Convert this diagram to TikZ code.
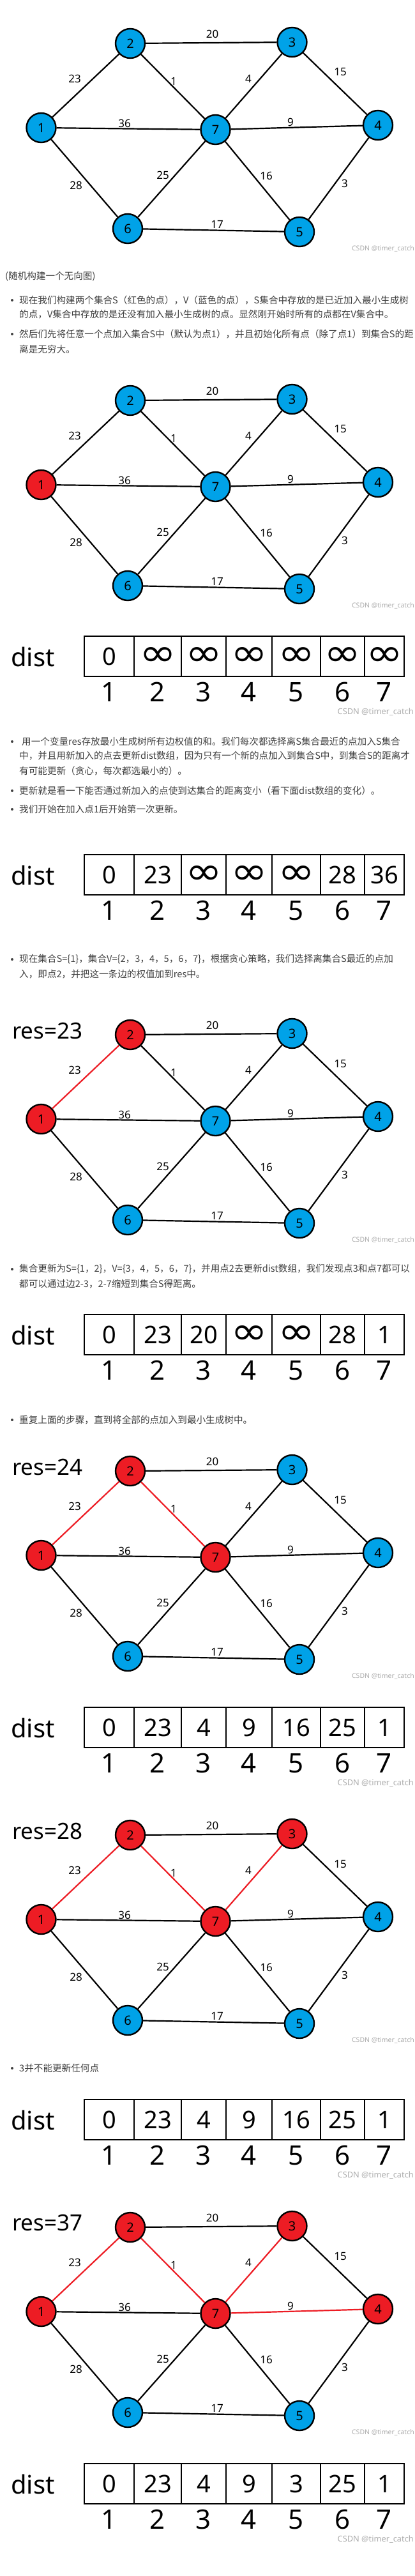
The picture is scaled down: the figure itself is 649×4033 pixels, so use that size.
\documentclass[tikz,border=0pt]{standalone}
\usepackage{fontspec}
\setmainfont{Noto Sans}
\newfontfamily\cjk{Noto Sans CJK SC}
\newfontfamily\dejavu{DejaVu Sans}
\usetikzlibrary{positioning}

\definecolor{paintblue}{HTML}{00A2E8}
\definecolor{paintred}{HTML}{ED1C24}
\definecolor{textgray}{HTML}{404040}

\newcommand{\inft}{\resizebox{58pt}{29pt}{\dejavu ∞}}

\tikzset{
vertex/.style={circle, draw, line width=2.4pt, fill=paintblue, minimum size=46pt, inner sep=0pt, font=\fontsize{20}{20}\selectfont},
picked/.style={fill=paintred},
link/.style={draw=black, line width=2.2pt},
mst/.style={draw=paintred, line width=2.2pt},
weight/.style={inner sep=0pt, font=\fontsize{17}{17}\selectfont},
reslabel/.style={anchor=west, inner sep=0pt, font=\fontsize{35}{35}\selectfont},
cell/.style={rectangle, draw, line width=2.6pt, minimum height=63pt, inner sep=0pt, font=\fontsize{38}{38}\selectfont},
index/.style={inner sep=0pt, font=\fontsize{42}{42}\selectfont},
distlabel/.style={anchor=west, inner sep=0pt, font=\fontsize{40}{40}\selectfont},
wmark/.style={anchor=east, inner sep=0pt, text=black!32, font=\fontsize{10.5}{10.5}\selectfont},
para/.style={anchor=west, inner sep=0pt, text=textgray, font=\cjk\fontsize{14.6}{18}\selectfont},
bullet/.style={circle, fill=textgray, minimum size=4pt, inner sep=0pt},
v1/.style={}, v2/.style={}, v3/.style={}, v4/.style={}, v5/.style={}, v6/.style={}, v7/.style={},
e12/.style={}, e23/.style={}, e27/.style={}, e37/.style={}, e34/.style={}, e17/.style={},
e47/.style={}, e16/.style={}, e67/.style={}, e57/.style={}, e45/.style={}, e56/.style={},
}

% one copy of the graph: #1 name, #2 top, #3 red vertices and edges
\newcommand{\mstgraph}[3]{%
\begin{scope}[shift={(0,#2)}, #3]
    \node [vertex, v1] (#1-1) at (64.5,200) {1};
    \node [vertex, v2] (#1-2) at (204,68) {2};
    \node [vertex, v3] (#1-3) at (457.5,66) {3};
    \node [vertex, v4] (#1-4) at (592,196) {4};
    \node [vertex, v5] (#1-5) at (469,363) {5};
    \node [vertex, v6] (#1-6) at (200,358) {6};
    \node [vertex, v7] (#1-7) at (337.5,203) {7};

    \draw[link, e12] (#1-1) -- (#1-2);
    \draw[link, e23] (#1-2) -- (#1-3);
    \draw[link, e27] (#1-2) -- (#1-7);
    \draw[link, e37] (#1-3) -- (#1-7);
    \draw[link, e34] (#1-3) -- (#1-4);
    \draw[link, e17] (#1-1) -- (#1-7);
    \draw[link, e47] (#1-7) -- (#1-4);
    \draw[link, e16] (#1-1) -- (#1-6);
    \draw[link, e67] (#1-6) -- (#1-7);
    \draw[link, e57] (#1-7) -- (#1-5);
    \draw[link, e45] (#1-4) -- (#1-5);
    \draw[link, e56] (#1-6) -- (#1-5);

    \node [weight] (#1-w23) at (332.5,53) {20};
    \node [weight] (#1-w12) at (117,123) {23};
    \node [weight] (#1-w27) at (272,127) {1};
    \node [weight] (#1-w37) at (389,123) {4};
    \node [weight] (#1-w34) at (533,113) {15};
    \node [weight] (#1-w17) at (195,193) {36};
    \node [weight] (#1-w47) at (455,191) {9};
    \node [weight] (#1-w67) at (255,274) {25};
    \node [weight] (#1-w57) at (417,275) {16};
    \node [weight] (#1-w16) at (119,290) {28};
    \node [weight] (#1-w45) at (540,287) {3};
    \node [weight] (#1-w56) at (340,351) {17};

    \node [wmark] (#1-wm) at (649,389) {CSDN @timer\_catch};
\end{scope}}

% the dist array: #1 name, #2 top, #3..#9 values
\newcommand{\distrow}[9]{%
\begin{scope}[shift={(0,#2)}]
    \node [distlabel] (#1-lab) at (17,32) {dist};
    \node [cell, minimum width=78pt] (#1-c1) at (171,31.5) {#3};
    \node [cell, minimum width=74pt] (#1-c2) at (247,31.5) {#4};
    \node [cell, minimum width=70pt] (#1-c3) at (319,31.5) {#5};
    \node [cell, minimum width=72pt] (#1-c4) at (390,31.5) {#6};
    \node [cell, minimum width=76pt] (#1-c5) at (464,31.5) {#7};
    \node [cell, minimum width=69pt] (#1-c6) at (536.5,31.5) {#8};
    \node [cell, minimum width=62pt] (#1-c7) at (602,31.5) {#9};

    \node [index, below=8pt of #1-c1] (#1-i1) {1};
    \node [index, below=8pt of #1-c2] (#1-i2) {2};
    \node [index, below=8pt of #1-c3] (#1-i3) {3};
    \node [index, below=8pt of #1-c4] (#1-i4) {4};
    \node [index, below=8pt of #1-c5] (#1-i5) {5};
    \node [index, below=8pt of #1-c6] (#1-i6) {6};
    \node [index, below=8pt of #1-c7] (#1-i7) {7};
\end{scope}}

\begin{document}
\begin{tikzpicture}[x=1pt, y=-1pt]
    \fill[white] (0,0) rectangle (649,4033);
    \useasboundingbox (0,0) rectangle (649,4033);

    \mstgraph{g1}{0}{}

    \node [para] (t0) at (8,433) {(随机构建一个无向图)};
    \node [bullet] (b1) at (19,470) {};
    \node [para] (t1a) at (30,470) {现在我们构建两个集合S（红色的点），V（蓝色的点），S集合中存放的是已近加入最小生成树};
    \node [para] (t1b) at (30,492) {的点，V集合中存放的是还没有加入最小生成树的点。显然刚开始时所有的点都在V集合中。};
    \node [bullet] (b2) at (19,523) {};
    \node [para] (t2a) at (30,523) {然后们先将任意一个点加入集合S中（默认为点1），并且初始化所有点（除了点1）到集合S的距};
    \node [para] (t2b) at (30,547) {离是无穷大。};

    \mstgraph{g2}{559}{v1/.style=picked}

    \distrow{d1}{996}{0}{\inft}{\inft}{\inft}{\inft}{\inft}{\inft}
    \node [wmark, font=\fontsize{12.8}{12.8}\selectfont] (d1-wm) at (648,1115) {CSDN @timer\_catch};

    \node [bullet] (b3) at (19,1161) {};
    \node [para] (t3a) at (34,1161) {用一个变量res存放最小生成树所有边权值的和。我们每次都选择离S集合最近的点加入S集合};
    \node [para] (t3b) at (30,1183) {中，并且用新加入的点去更新dist数组，因为只有一个新的点加入到集合S中，到集合S的距离才};
    \node [para] (t3c) at (30,1207) {有可能更新（贪心，每次都选最小的）。};
    \node [bullet] (b4) at (19,1238) {};
    \node [para] (t4) at (30,1238) {更新就是看一下能否通过新加入的点使到达集合的距离变小（看下面dist数组的变化）。};
    \node [bullet] (b5) at (19,1267) {};
    \node [para] (t5) at (30,1267) {我们开始在加入点1后开始第一次更新。};

    \distrow{d2}{1338}{0}{23}{\inft}{\inft}{\inft}{28}{36}

    \node [bullet] (b6) at (19,1502) {};
    \node [para] (t6a) at (30,1502) {现在集合S=\{1\}，集合V=\{2，3，4，5，6，7\}，根据贪心策略，我们选择离集合S最近的点加};
    \node [para] (t6b) at (30,1525) {入，即点2，并把这一条边的权值加到res中。};

    \mstgraph{g3}{1552}{v1/.style=picked, v2/.style=picked, e12/.style=mst}
    \node [reslabel] (g3-res) at (19,1614) {res=23};

    \node [bullet] (b7) at (19,1987) {};
    \node [para] (t7a) at (30,1987) {集合更新为S=\{1，2\}，V=\{3，4，5，6，7\}，并用点2去更新dist数组，我们发现点3和点7都可以};
    \node [para] (t7b) at (30,2010) {都可以通过边2-3，2-7缩短到集合S得距离。};

    \distrow{d3}{2058}{0}{23}{20}{\inft}{\inft}{28}{1}

    \node [bullet] (b8) at (19,2223) {};
    \node [para] (t8) at (30,2223) {重复上面的步骤，直到将全部的点加入到最小生成树中。};

    \mstgraph{g4}{2235}{v1/.style=picked, v2/.style=picked, v7/.style=picked,
        e12/.style=mst, e27/.style=mst}
    \node [reslabel] (g4-res) at (19,2297) {res=24};

    \distrow{d4}{2673}{0}{23}{4}{9}{16}{25}{1}
    \node [wmark, font=\fontsize{12.8}{12.8}\selectfont] (d4-wm) at (648,2792) {CSDN @timer\_catch};

    \mstgraph{g5}{2805}{v1/.style=picked, v2/.style=picked, v3/.style=picked, v7/.style=picked,
        e12/.style=mst, e27/.style=mst, e37/.style=mst}
    \node [reslabel] (g5-res) at (19,2867) {res=28};

    \node [bullet] (b9) at (19,3238) {};
    \node [para] (t9) at (30,3238) {3并不能更新任何点};

    \distrow{d5}{3287}{0}{23}{4}{9}{16}{25}{1}
    \node [wmark, font=\fontsize{12.8}{12.8}\selectfont] (d5-wm) at (648,3406) {CSDN @timer\_catch};

    \mstgraph{g6}{3419}{v1/.style=picked, v2/.style=picked, v3/.style=picked, v4/.style=picked, v7/.style=picked,
        e12/.style=mst, e27/.style=mst, e37/.style=mst, e47/.style=mst}
    \node [reslabel] (g6-res) at (19,3480) {res=37};

    \distrow{d6}{3857}{0}{23}{4}{9}{3}{25}{1}
    \node [wmark, font=\fontsize{12.8}{12.8}\selectfont] (d6-wm) at (648,3976) {CSDN @timer\_catch};

\end{tikzpicture}
\end{document}
